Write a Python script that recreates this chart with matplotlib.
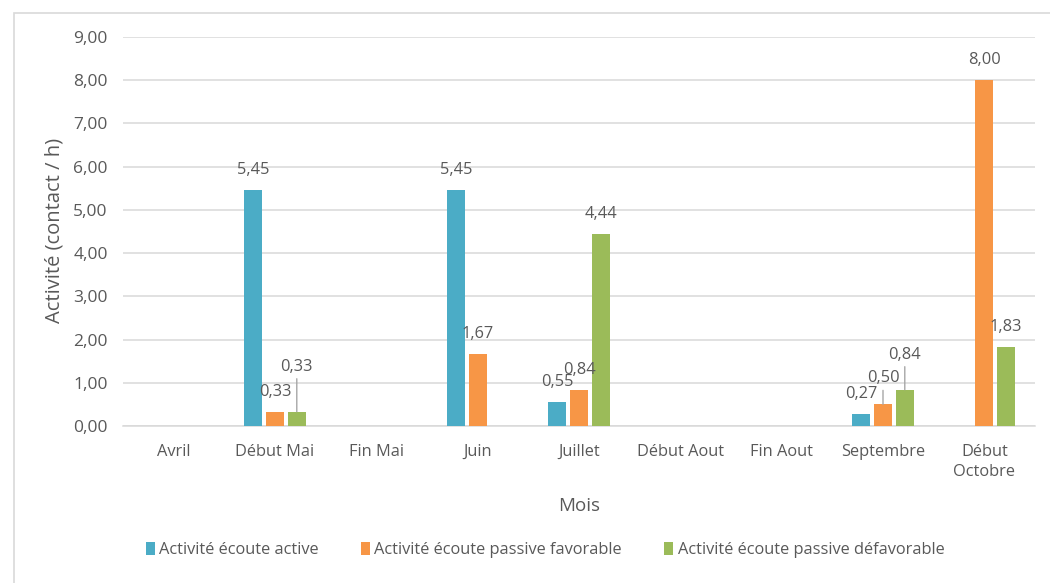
import matplotlib
matplotlib.use("Agg")
import matplotlib.pyplot as plt
from matplotlib.patches import Rectangle, Patch
from matplotlib.ticker import FuncFormatter
import numpy as np

# ---- data ----
categories = ["Avril", "Début Mai", "Fin Mai", "Juin", "Juillet",
              "Début Aout", "Fin Aout", "Septembre", "Début\nOctobre"]
series_names = ["Activité écoute active",
                "Activité écoute passive favorable",
                "Activité écoute passive défavorable"]
active = [np.nan, 5.45, np.nan, 5.45, 0.55, np.nan, np.nan, 0.27, np.nan]
passive_fav = [np.nan, 0.33, np.nan, 1.67, 0.84, np.nan, np.nan, 0.50, 8.00]
passive_defav = [np.nan, 0.33, np.nan, np.nan, 4.44, np.nan, np.nan, 0.84, 1.83]
y_ticks = [0, 1, 2, 3, 4, 5, 6, 7, 8, 9]

# ---- style ----
colors = ["#4BACC6", "#F79646", "#9BBB59"]
text_color = "#595959"
grid_color = "#d9d9d9"
font = ["Open Sans", "DejaVu Sans"]
plt.rcParams["font.family"] = font
fs = 11.8

W, H = 1050, 583
fig = plt.figure(figsize=(W / 100, H / 100), dpi=100)
fig.patch.set_facecolor("white")

# outer chart frame
fig.patches.append(Rectangle((14 / W, -0.05), 1.2, 1 - 13 / H + 0.05,
                             transform=fig.transFigure, fill=False,
                             edgecolor="#d9d9d9", linewidth=1.2))

ax = fig.add_axes([123 / W, 1 - 426 / H, (1035 - 123) / W, (426 - 37) / H])
x = np.arange(len(categories))
bw = 0.18
step = 0.215
all_series = [active, passive_fav, passive_defav]

# label offsets in pixels above the bar top (default 20), with leader lines for moved labels
label_shift = {(1, 2): 45, (7, 1): 26, (7, 2): 35}

for si, (vals, col) in enumerate(zip(all_series, colors)):
    xs = x + (si - 1) * step
    ax.bar(xs, vals, width=bw, color=col, zorder=3)
    for ci, v in enumerate(vals):
        if np.isnan(v):
            continue
        off = label_shift.get((ci, si), 20)
        txt = f"{v:.2f}".replace(".", ",")
        ax.annotate(txt, xy=(xs[ci], v), xytext=(0, off * 0.72),
                    textcoords="offset points", ha="center", va="center",
                    fontsize=fs, color=text_color, zorder=5)
        if (ci, si) in label_shift:
            ax.annotate("", xy=(xs[ci], v), xytext=(0, (off - 12) * 0.72),
                        textcoords="offset points",
                        arrowprops=dict(arrowstyle="-", color="#a6a6a6",
                                        lw=1.0, shrinkA=0, shrinkB=0),
                        zorder=4)

ax.set_xlim(-0.5, len(categories) - 0.5)
ax.set_ylim(0, 9)
ax.set_yticks(y_ticks)
ax.yaxis.set_major_formatter(FuncFormatter(lambda v, p: f"{v:.2f}".replace(".", ",")))
ax.set_xticks(x)
ax.set_xticklabels(categories, linespacing=1.3)
ax.grid(axis="y", color=grid_color, linewidth=1.1, zorder=0)
ax.set_axisbelow(True)
for s in ["top", "right", "left"]:
    ax.spines[s].set_visible(False)
ax.spines["bottom"].set_color(grid_color)
ax.spines["bottom"].set_linewidth(1.1)
ax.tick_params(axis="both", length=0, labelsize=fs, colors=text_color)
ax.tick_params(axis="y", pad=11, labelsize=12.5)
ax.tick_params(axis="x", pad=13)

fig.text(55 / W, 1 - 230 / H, "Activité (contact / h)", rotation=90,
         ha="center", va="center", fontsize=14.5, color=text_color)
fig.text(579 / W, 1 - 506 / H, "Mois", ha="center", va="center",
         fontsize=13.5, color=text_color)

handles = [Patch(facecolor=c, edgecolor="none") for c in colors]
fig.legend(handles, series_names, loc="center", bbox_to_anchor=(545 / W, 1 - 550 / H),
           ncol=3, frameon=False, fontsize=fs, labelcolor=text_color,
           handlelength=0.55, handleheight=0.85, handletextpad=0.25, columnspacing=2.6)

fig.savefig("out.png", dpi=100, facecolor="white")
